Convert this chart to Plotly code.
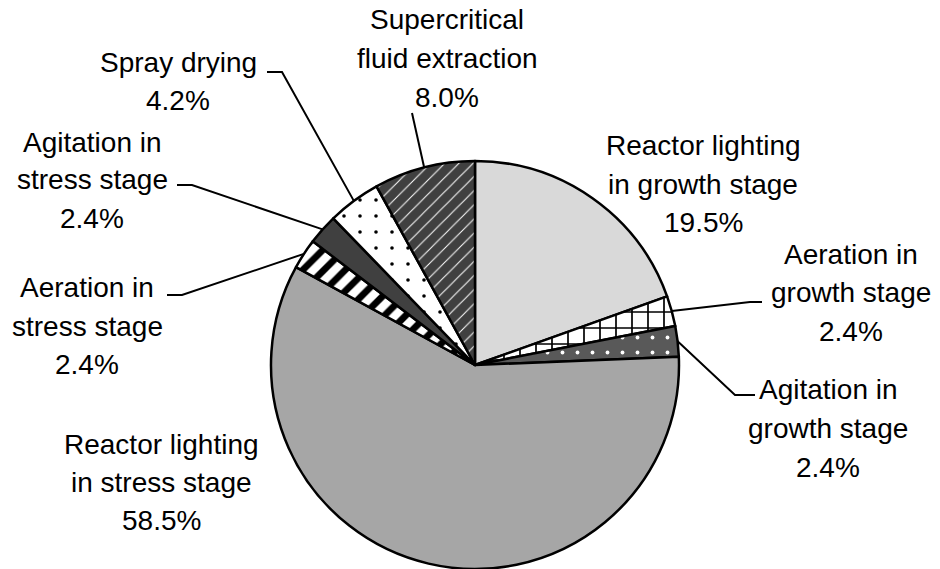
import math
import plotly.graph_objects as go

W, H = 940, 569

# ---- data ----
categories = [
    "Reactor lighting in growth stage",
    "Aeration in growth stage",
    "Agitation in growth stage",
    "Reactor lighting in stress stage",
    "Aeration in stress stage",
    "Agitation in stress stage",
    "Spray drying",
    "Supercritical fluid extraction",
]
values = [19.5, 2.4, 2.4, 58.5, 2.4, 2.4, 4.2, 8.0]
label_lines = [
    ["Reactor lighting", "in growth stage"],
    ["Aeration in", "growth stage"],
    ["Agitation in", "growth stage"],
    ["Reactor lighting", "in stress stage"],
    ["Aeration in", "stress stage"],
    ["Agitation in", "stress stage"],
    ["Spray drying"],
    ["Supercritical", "fluid extraction"],
]

# ---- styles ----
bg_colors = ["#d9d9d9", "#ffffff", "#595959", "#a6a6a6", "#ffffff", "#404040", "#ffffff", "#404040"]
fg_colors = ["#000000", "#000000", "#ffffff", "#000000", "#000000", "#000000", "#000000", "#ffffff"]
shapes_pat = ["", "+", ".", "", "/", "", ".", "/"]
pat_size = [8, 16, 15, 8, 15, 8, 16, 10]
pat_solid = [0.3, 0.2, 0.05, 0.3, 0.45, 0.3, 0.04, 0.1]

# pie geometry (pixels)
CX, CY, R = 475, 365, 204

# label layout (pixels): center x, line center ys, leader path after arc point
label_x = [703, 851, 828, 161, 87, 92, 178, 447]
label_y = [
    [146, 184, 222],
    [254, 293, 331],
    [389, 428, 467],
    [444, 482, 520],
    [287, 326, 364],
    [142, 180, 218],
    [63, 101],
    [20, 58, 97],
]
leader_pts = [
    None,
    [(750, 302), (762, 302)],
    [(735, 395), (755, 395)],
    None,
    [(182, 295), (167, 295)],
    [(192, 185), (177, 185)],
    [(282, 72), (267, 72)],
    [(412, 113)],
]


def paper(x, y):
    return x / W, 1 - y / H


fig = go.Figure()
fig.add_trace(go.Pie(
    labels=categories,
    values=values,
    sort=False,
    direction="clockwise",
    rotation=0,
    textinfo="none",
    hoverinfo="label+percent",
    showlegend=False,
    domain=dict(x=[(CX - R) / W, (CX + R) / W], y=[0, 2 * R / H]),
    marker=dict(
        colors=bg_colors,
        line=dict(color="#000000", width=2.5),
        pattern=dict(
            shape=shapes_pat,
            fgcolor=fg_colors,
            bgcolor=bg_colors,
            size=pat_size,
            solidity=pat_solid,
            fillmode="replace",
        ),
    ),
))

total = sum(values)
annotations = []
shapes = []
cum = 0.0
for i, v in enumerate(values):
    mid = 2 * math.pi * (cum + v / 2) / total
    cum += v
    lines = label_lines[i] + [f"{v:.1f}%"]
    for txt, ly in zip(lines, label_y[i]):
        ax, ay = paper(label_x[i], ly)
        annotations.append(dict(
            x=ax, y=ay, xref="paper", yref="paper", text=txt,
            showarrow=False, xanchor="center", yanchor="middle",
            font=dict(family="Liberation Sans, Arial, sans-serif", size=28, color="#000000"),
        ))
    if leader_pts[i]:
        sx = CX + R * math.sin(mid)
        sy = CY - R * math.cos(mid)
        pts = [(sx, sy)] + leader_pts[i]
        path = "M " + " L ".join("{:.5f},{:.5f}".format(*paper(px, py)) for px, py in pts)
        shapes.append(dict(type="path", path=path, xref="paper", yref="paper",
                           line=dict(color="#000000", width=2)))

fig.update_layout(
    width=W, height=H,
    margin=dict(l=0, r=0, t=0, b=0),
    paper_bgcolor="#ffffff",
    plot_bgcolor="#ffffff",
    annotations=annotations,
    shapes=shapes,
)

fig.write_html(
    "out.html",
    config={"displayModeBar": False},
    post_script="document.body.style.margin='0';document.body.style.overflow='hidden';",
)
